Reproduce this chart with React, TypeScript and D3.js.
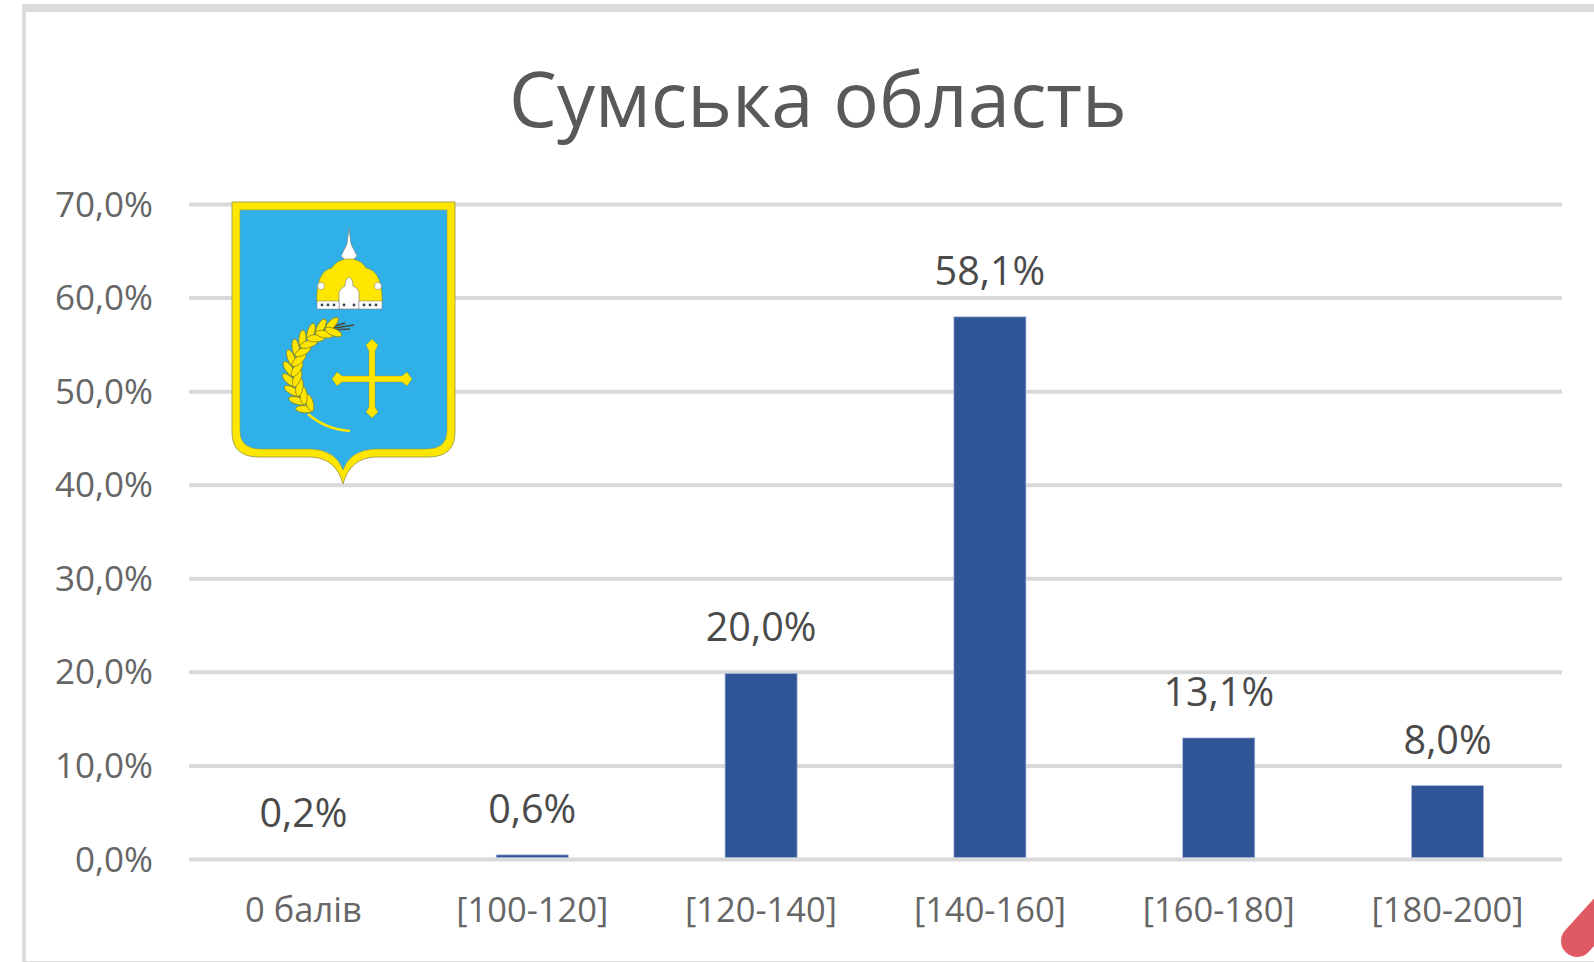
import React from "react";
import * as d3 from "d3";

const categories = ["0 балів", "[100-120]", "[120-140]", "[140-160]", "[160-180]", "[180-200]"];
const shares = [0.2, 0.6, 20.0, 58.1, 13.1, 8.0];
const yTicks = [0, 10, 20, 30, 40, 50, 60, 70];
const title = "Сумська область";

const W = 1594, H = 962;
const FONT = "'Open Sans', 'Noto Sans', sans-serif";
const x = d3.scaleBand<string>().domain(categories).range([189, 1562]).paddingInner(0.685).paddingOuter(0.3425);
const y = d3.scaleLinear().domain([0, 70]).range([859.5, 204.5]);
const fmt = (v: number) => v.toFixed(1).replace(".", ",") + "%";

function Emblem() {
  const grains = d3.range(0, 11);
  return (
    <g>
      <path d="M232 202H455V432Q455 457 428 457H375Q350 458 343 484Q336 458 311 457H259Q232 457 232 432Z" fill="#ffe600" stroke="#a8a54a" strokeWidth="1" />
      <path d="M240 210H447V431Q447 449 426 449H375Q350 450 343 470Q336 450 311 449H261Q240 449 240 431Z" fill="#2fb0e8" stroke="#8c9a5a" strokeWidth="0.6" />
      <path d="M349 228L351 244L357 256L352 261H346L341 256L347 244Z" fill="#fff" stroke="#777" strokeWidth="0.6" />
      <path d="M317 303C316 280 322 270 332 268C336 261 343 259 349 259C355 259 362 261 366 268C376 270 383 280 382 303Z" fill="#ffe600" stroke="#8a8a20" strokeWidth="0.6" />
      <path d="M339 309V292Q342 287 345 286Q345 279 349 277Q353 279 353 286Q357 287 359 292V309Z" fill="#fff" stroke="#777" strokeWidth="0.6" />
      <rect x="317" y="301" width="22" height="8" fill="#fff" stroke="#777" strokeWidth="0.5" />
      <rect x="359" y="301" width="23" height="8" fill="#fff" stroke="#777" strokeWidth="0.5" />
      {[322, 328, 334, 344, 354, 364, 370, 376].map((cx) => <circle key={cx} cx={cx} cy={305} r={1.4} fill="#444" />)}
      {[321, 378].map((cx) => <circle key={cx} cx={cx} cy={286} r={3.5} fill="#fff" stroke="#777" strokeWidth="0.5" />)}
      <path d="M308 414Q325 429 350 431" fill="none" stroke="#ffe600" strokeWidth="2.4" />
      <path d="M328 329L354 325M330 330L350 329M328 328L345 323" stroke="#4a4a3a" strokeWidth="1.6" fill="none" />
      {grains.map((i) => {
        const deg = 128 + i * 13;
        const a = (deg * Math.PI) / 180;
        const cx = 338 + 45 * Math.cos(a);
        const cy = 373 + 45 * Math.sin(a);
        return (
          <g key={i} transform={`translate(${cx},${cy}) rotate(${deg + 180})`}>
            <ellipse cx={-4} cy={-4} rx={9} ry={3.6} transform="rotate(55 -4 -4)" fill="#ffe600" stroke="#7d7a20" strokeWidth="0.7" />
            <ellipse cx={4} cy={-4} rx={9} ry={3.6} transform="rotate(-55 4 -4)" fill="#ffe600" stroke="#7d7a20" strokeWidth="0.7" />
          </g>
        );
      })}
      <path d="M372 339L378 345L375 351V376H402L407 372L412 379L407 386L402 382H375V407L378 412L372 418L366 412L369 407V382H342L337 386L332 379L337 372L342 376H369V351L366 345Z" fill="#ffe600" stroke="#8a8a20" strokeWidth="0.4" />
    </g>
  );
}

export default function App() {
  return (
    <svg width={W} height={H} viewBox={`0 0 ${W} ${H}`} style={{ position: "absolute", left: 0, top: 0, background: "#fff", fontFamily: FONT }}>
      <rect x={0} y={0} width={W} height={H} fill="#fff" />
      <rect x={22} y={4} width={W - 22} height={8} fill="#dcdcdc" />
      <rect x={22} y={4} width={4} height={H - 4} fill="#dcdcdc" />
      <rect x={22} y={961} width={W - 22} height={1} fill="#dcdcdc" />
      <text x={818} y={127} textAnchor="middle" fontSize={76} fill="#595959">{title}</text>
      {yTicks.map((t) => (
        <g key={t}>
          <line x1={189} x2={1562} y1={y(t)} y2={y(t)} stroke="#d9d9d9" strokeWidth={4} />
          <text x={153} y={y(t) + 12} textAnchor="end" fontSize={35} fill="#666666">{fmt(t)}</text>
        </g>
      ))}
      {categories.map((c, i) => (
        <g key={c}>
          <rect x={x(c)} y={y(shares[i]) + 1} width={x.bandwidth()} height={y(0) - y(shares[i]) - 3} fill="#2f5597" stroke="#a9bcdd" strokeWidth={0.7} />
          <text x={x(c)! + x.bandwidth() / 2} y={y(shares[i]) - 31} textAnchor="middle" fontSize={39.5} fill="#4a4a4a">{fmt(shares[i])}</text>
          <text x={x(c)! + x.bandwidth() / 2} y={922} textAnchor="middle" fontSize={34.5} fill="#666666">{c}</text>
        </g>
      ))}
      <Emblem />
      <path d="M1577 941L1625 888" stroke="#e05a64" strokeWidth={32} strokeLinecap="round" fill="none" />
    </svg>
  );
}
